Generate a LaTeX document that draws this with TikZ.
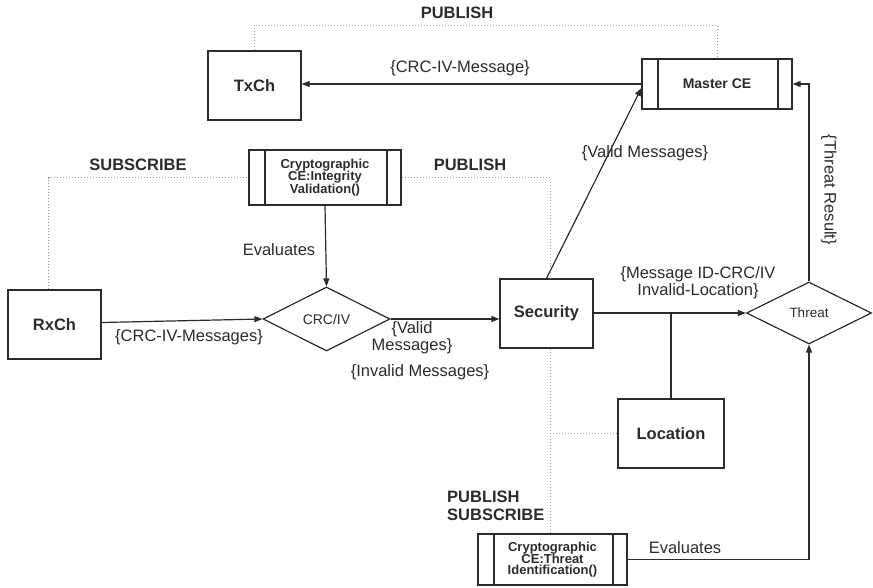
\documentclass[tikz,border=0pt]{standalone}
\usepackage{fontspec}
\setmainfont{Liberation Sans}
\usetikzlibrary{shapes.geometric,arrows.meta}
\definecolor{ink}{HTML}{2B2B2B}
\definecolor{dots}{HTML}{9A9A9A}
\tikzset{
  box/.style={draw=ink, line width=1.2pt, rectangle, inner sep=0pt,
    text=ink, font=\fontsize{16.5}{19}\selectfont\bfseries},
  proc/.style={draw=ink, line width=1.2pt, rectangle, inner sep=0pt, align=center,
    text=ink, font=\fontsize{13}{11}\selectfont\bfseries,
    path picture={
      \draw[ink, line width=1.2pt]
        ([xshift=16pt]path picture bounding box.north west) --
        ([xshift=16pt]path picture bounding box.south west)
        ([xshift=-14pt]path picture bounding box.north east) --
        ([xshift=-14pt]path picture bounding box.south east);}},
  dec/.style={draw=ink, line width=1.2pt, diamond, inner sep=0pt, aspect=2,
    text=ink},
  arr/.style={draw=ink, line width=1.2pt, -{Triangle[length=8pt,width=6pt]}},
  link/.style={draw=ink, line width=1.2pt},
  dot/.style={draw=dots, line width=1pt, dotted},
  lab/.style={text=ink, font=\fontsize{16.5}{17}\selectfont, inner sep=0pt, align=center},
  role/.style={text=ink, font=\fontsize{16.5}{18}\selectfont\bfseries, inner sep=0pt, align=left},
}
\begin{document}
\begin{tikzpicture}[x=1pt,y=-1pt]
\useasboundingbox (0,0) rectangle (873,587);

% entities
\node[box, minimum width=93pt, minimum height=69pt] (tx) at (254.5,85.5) {TxCh};
\node[proc, minimum width=150pt, minimum height=50pt, font=\fontsize{14}{16}\selectfont\bfseries] (ce) at (717,84) {Master CE};
\node[proc, minimum width=152pt, minimum height=55pt] (iv) at (325,177.5) {Cryptographic\\[-1pt]CE:Integrity\\[-1pt]Validation()};
\node[box, minimum width=93pt, minimum height=69pt] (rx) at (54.5,324.5) {RxCh};
\node[dec, minimum width=127pt, minimum height=64pt, font=\fontsize{14}{16}\selectfont] (crc) at (326.5,319) {CRC/IV};
\node[box, minimum width=93pt, minimum height=69pt] (sec) at (546.5,313.5) {Security};
\node[dec, minimum width=125pt, minimum height=62pt, font=\fontsize{13.5}{16}\selectfont] (thr) at (809,313) {Threat};
\node[box, minimum width=106pt, minimum height=69pt] (loc) at (671,433.5) {Location};
\node[proc, minimum width=149pt, minimum height=51pt] (ti) at (552.5,559.5) {Cryptographic\\[-1pt]CE:Threat\\[0.5pt]Identification()};

% publish / subscribe relations
\draw[dot] (tx.north) -- (tx.north |- 0,25) -| (ce.north);
\node[role] (p1) at (457,13) {PUBLISH};
\draw[dot] ([xshift=-6pt]rx.north) |- (iv.west);
\node[role] (s1) at (138,165) {SUBSCRIBE};
\draw[dot] (iv.east) -| ([xshift=3.5pt]sec.north);
\node[role] (p2) at (470,165) {PUBLISH};
\draw[dot] ([xshift=3.5pt]sec.south) -- ([xshift=3.5pt]sec.south |- ti.north);
\coordinate (br) at ([xshift=3.5pt]sec.south |- loc.west);
\draw[dot] (br) -- (loc.west);
\node[role, anchor=west] (ps) at (447,506) {PUBLISH\\SUBSCRIBE};

% message flows
\draw[arr] (ce.west) -- (ce.west -| tx.east);
\node[lab] (l1) at (460,68) {\{CRC-IV-Message\}};
\draw[arr] (sec.north) -- ([yshift=-4pt]ce.west);
\node[lab] (l2) at (645,153) {\{Valid Messages\}};
\draw[arr] (thr.north) |- (ce.east);
\node[lab, rotate=-90] (l3) at (829,190) {\{Threat Result\}};
\draw[arr] (iv.south) -- (crc.north);
\node[lab] (l4) at (279,250) {Evaluates};
\draw[arr] ([yshift=2pt]rx.east) -- (crc.west);
\node[lab] (l5) at (189,337) {\{CRC-IV-Messages\}};
\draw[arr] (crc.east) -- (crc.east -| sec.west);
\node[lab] (l6) at (412,338) {\{Valid\\Messages\}};
\node[lab] (l7) at (420,372) {\{Invalid Messages\}};
\draw[arr] (sec.east |- thr.west) -- (thr.west);
\node[lab] (l8) at (698,283) {\{Message ID-CRC/IV\\Invalid-Location\}};
\draw[link] (loc.north) -- (loc.north |- thr.west);
\draw[arr] (ti.east) -| (thr.south);
\node[lab] (l9) at (685,548) {Evaluates};
\end{tikzpicture}
\end{document}
